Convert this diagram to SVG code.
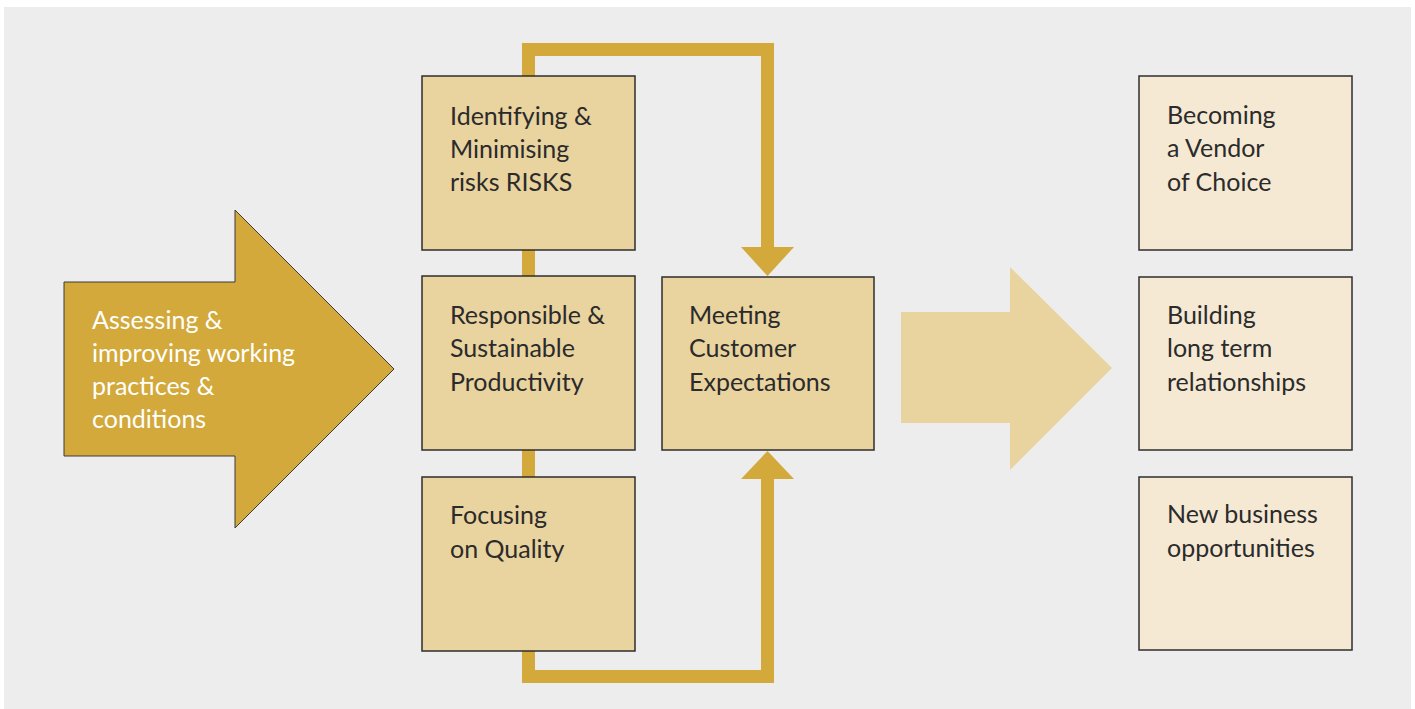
<svg xmlns="http://www.w3.org/2000/svg" width="1415" height="709" viewBox="0 0 1415 709">
<style>
.bg{fill:#EDEDED}
.box{fill:#E9D39F;stroke:#2E2E2E;stroke-width:1.5}
.box2{fill:#F5E9D4;stroke:#2E2E2E;stroke-width:1.5}
.t{font-family:Lato,"Liberation Sans",sans-serif;font-size:25px;fill:#2B2B2B}
.tw{font-family:Lato,"Liberation Sans",sans-serif;font-size:25px;fill:#FFFFFF}
.line{fill:none;stroke:#D2A93A;stroke-width:13;stroke-linejoin:miter}
.head{fill:#D2A93A}
</style>
<rect class="bg" x="4" y="7" width="1407" height="702"/>
<g id="connectors">
<path class="line" d="M528.5,676.5 V49.5 H767.5 V248"/>
<polygon class="head" points="741,247 794,247 767.5,276"/>
<path class="line" d="M528.5,600 V676.5 H767.5 V478"/>
<polygon class="head" points="741,479 794,479 767.5,451"/>
</g>
<g id="assessing">
<polygon points="64,282 235,282 235,210 394,369 235,528 235,456 64,456" fill="#D2A93A" stroke="#3A3A3A" stroke-width="1"/>
<text class="tw" x="92" y="329">Assessing &amp;</text>
<text class="tw" x="92" y="362">improving working</text>
<text class="tw" x="92" y="395">practices &amp;</text>
<text class="tw" x="92" y="428">conditions</text>
</g>
<g id="identifying">
<rect class="box" x="422" y="76" width="213" height="174"/>
<text class="t" x="450" y="125">Identifying &amp;</text>
<text class="t" x="450" y="158">Minimising</text>
<text class="t" x="450" y="191">risks RISKS</text>
</g>
<g id="responsible">
<rect class="box" x="422" y="276" width="213" height="174"/>
<text class="t" x="450" y="324">Responsible &amp;</text>
<text class="t" x="450" y="357">Sustainable</text>
<text class="t" x="450" y="391">Productivity</text>
</g>
<g id="focusing">
<rect class="box" x="422" y="477" width="213" height="174"/>
<text class="t" x="450" y="524">Focusing</text>
<text class="t" x="450" y="558">on Quality</text>
</g>
<g id="meeting">
<rect class="box" x="662" y="277" width="212" height="173"/>
<text class="t" x="689" y="324">Meeting</text>
<text class="t" x="689" y="357">Customer</text>
<text class="t" x="689" y="391">Expectations</text>
</g>
<g id="result-arrow">
<polygon points="901,312 1010,312 1010,267 1112,368 1010,470 1010,423 901,423" fill="#E9D39F"/>
</g>
<g id="vendor">
<rect class="box2" x="1139" y="76" width="213" height="174"/>
<text class="t" x="1167" y="124">Becoming</text>
<text class="t" x="1167" y="157">a Vendor</text>
<text class="t" x="1167" y="191">of Choice</text>
</g>
<g id="building">
<rect class="box2" x="1139" y="277" width="213" height="173"/>
<text class="t" x="1167" y="324">Building</text>
<text class="t" x="1167" y="357">long term</text>
<text class="t" x="1167" y="391">relationships</text>
</g>
<g id="newbusiness">
<rect class="box2" x="1139" y="477" width="213" height="173"/>
<text class="t" x="1167" y="523">New business</text>
<text class="t" x="1167" y="557">opportunities</text>
</g>
</svg>
